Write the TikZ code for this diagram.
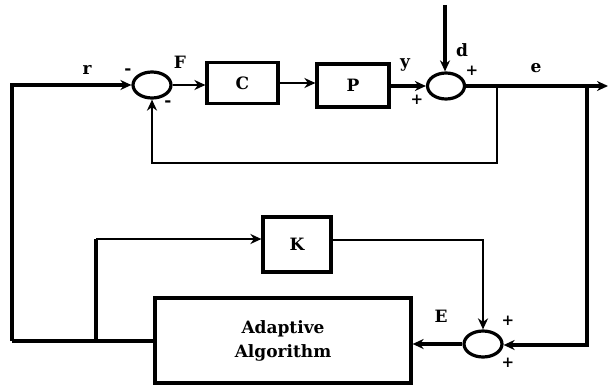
\documentclass[tikz,border=0pt]{standalone}
\usepackage{fontspec}
\setmainfont{DejaVu Serif}
\usetikzlibrary{arrows.meta,shapes.geometric}
\begin{document}
\begin{tikzpicture}[x=1pt,y=-1pt,
  blk/.style={draw,line width=3.2pt,inner sep=0pt,font=\fontsize{17}{24}\selectfont\bfseries},
  sumj/.style={draw,ellipse,line width=3.2pt,minimum width=38pt,minimum height=26pt,inner sep=0pt},
  thk/.style={line width=3.2pt},
  thn/.style={line width=2.1pt},
  arr/.style={-{Stealth[length=11pt,width=10pt,inset=3.5pt]}},
  lbl/.style={font=\fontsize{17}{20}\selectfont\bfseries,inner sep=0pt},
  pls/.style={font=\fontsize{15}{17}\selectfont\bfseries,inner sep=0pt}]
\useasboundingbox (0,0) rectangle (609,385);
% nodes
\node[sumj] (s1) at (152,85) {};
\node[blk,minimum width=71pt,minimum height=41pt] (C) at (242.5,83) {C};
\node[blk,minimum width=72pt,minimum height=43pt] (P) at (353,85.5) {P};
\node[sumj,minimum width=37pt] (s2) at (446,86) {};
\node[blk,minimum width=68pt,minimum height=55pt] (K) at (297,244.5) {K};
\node[blk,minimum width=256pt,minimum height=85pt,align=center] (A) at (283,340.5) {Adaptive\\Algorithm};
\node[sumj] (s3) at (483,344) {};
% coordinates
\coordinate (tl) at (12,85);
\coordinate (bl) at (12,341);
\coordinate (kb) at (96,341);
\coordinate (kt) at (96,239);
\coordinate (dtop) at (445,5);
\coordinate (eout) at (608,86);
\coordinate (fbr) at (497,86);
\coordinate (fbr2) at (497,163);
\coordinate (fbl) at (152,163);
\coordinate (rv) at (587,86);
\coordinate (rv2) at (587,345);
\coordinate (kr) at (483,240);
% connectors
\draw[thk,arr] (bl) -- (tl) -- (s1.west);
\draw[thk] (bl) -- (A.west |- bl);
\draw[thk] (kb) -- (kt);
\draw[thn,arr] (kt) -- (K.west |- kt);
\draw[thn,arr] (s1.east) -- (C.west |- s1.east);
\draw[thn,arr] (C.east) -- (P.west |- C.east);
\draw[thk,arr] (P.east |- s2.west) -- (s2.west);
\draw[thk,arr] (dtop) -- (s2.north -| dtop);
\draw[thk,arr] (s2.east) -- (eout);
\draw[thn,arr] (fbr) -- (fbr2) -- (fbl) -- (s1.south);
\draw[thk,arr] (rv) -- (rv2) -- (s3.east |- rv2);
\draw[thn,arr] (K.east |- kr) -- (kr) -- (s3.north);
\draw[thk,arr] (s3.west) -- (A.east |- s3.west);
% labels
\node[lbl] (lr) at (87,70) {r};
\node[lbl] (lm1) at (128,72) {-};
\node[lbl] (lF) at (180,62) {F};
\node[lbl] (lm2) at (168,104) {-};
\node[lbl] (ly) at (405,65) {y};
\node[lbl] (ld) at (462,50) {d};
\node[pls] (lp1) at (472,71) {+};
\node[pls] (lp2) at (417,100) {+};
\node[lbl] (le) at (536,68) {e};
\node[lbl] (lE) at (441,316) {E};
\node[pls] (lp3) at (508,321) {+};
\node[pls] (lp4) at (508,363) {+};
\end{tikzpicture}
\end{document}
